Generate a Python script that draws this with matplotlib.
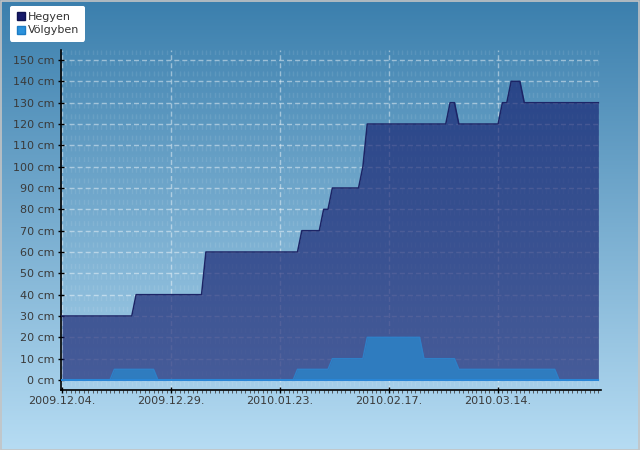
import matplotlib
matplotlib.use("Agg")
import matplotlib.pyplot as plt
import matplotlib.dates as mdates
from matplotlib.lines import Line2D
from matplotlib.patches import Rectangle
import numpy as np
import pandas as pd

# ---- data (breakpoints) ----
hegyen_dates = ["2009-12-04", "2009-12-20", "2009-12-21", "2010-01-05", "2010-01-06",
                "2010-01-27", "2010-01-28", "2010-02-01", "2010-02-02", "2010-02-03",
                "2010-02-04", "2010-02-10", "2010-02-11", "2010-02-12", "2010-03-02",
                "2010-03-03", "2010-03-04", "2010-03-05", "2010-03-14", "2010-03-15",
                "2010-03-16", "2010-03-17", "2010-03-19", "2010-03-20", "2010-04-06"]
hegyen_values = [30, 30, 40, 40, 60,
                 60, 70, 70, 80, 80,
                 90, 90, 100, 120, 120,
                 130, 130, 120, 120, 130,
                 130, 140, 140, 130, 130]

volgyben_dates = ["2009-12-04", "2009-12-15", "2009-12-16", "2009-12-25", "2009-12-26",
                  "2010-01-26", "2010-01-27", "2010-02-03", "2010-02-04", "2010-02-11",
                  "2010-02-12", "2010-02-24", "2010-02-25", "2010-03-04", "2010-03-05",
                  "2010-03-27", "2010-03-28", "2010-04-06"]
volgyben_values = [0, 0, 5, 5, 0,
                   0, 5, 5, 10, 10,
                   20, 20, 10, 10, 5,
                   5, 0, 0]

series_names = ["Hegyen", "Völgyben"]
tick_dates = ["2009-12-04", "2009-12-29", "2010-01-23", "2010-02-17", "2010-03-14"]
y_ticks = list(range(0, 151, 10))

plt.rcParams["lines.scale_dashes"] = False
plt.rcParams["font.family"] = ["DejaVu Sans"]

W, H = 640, 450
fig = plt.figure(figsize=(W / 100, H / 100), dpi=100)

# background gradient
bg = fig.add_axes([0, 0, 1, 1], zorder=-10)
top = np.array([59, 127, 173]) / 255
bot = np.array([182, 220, 243]) / 255
t = np.linspace(0, 1, 256)[:, None]
grad = (top[None, :] * (1 - t) + bot[None, :] * t)[:, None, :]
bg.imshow(grad, aspect="auto", extent=[0, 1, 0, 1])
bg.set_xlim(0, 1); bg.set_ylim(0, 1)
bg.axis("off")
bg.add_patch(Rectangle((0.0008, 0.001), 0.998, 0.997, transform=bg.transAxes,
                       fill=False, edgecolor="#c4c4c4", lw=1.2))

ax = fig.add_axes([61 / W, 1 - 390 / H, (601 - 61) / W, (390 - 50) / H])
ax.set_facecolor("none")

hd = mdates.date2num(pd.to_datetime(hegyen_dates))
vd = mdates.date2num(pd.to_datetime(volgyben_dates))
start = mdates.date2num(pd.Timestamp(tick_dates[0]))

ax.fill_between(hd, 0, hegyen_values, color=(20 / 255, 30 / 255, 110 / 255), alpha=0.65,
                lw=0, zorder=2)
ax.plot(hd, hegyen_values, color="#1c2466", lw=1.1, zorder=3)
ax.fill_between(vd, 0, volgyben_values, color="#2f7cbf", lw=0, zorder=4)
ax.plot(vd, volgyben_values, color="#2e80c8", lw=1.0, zorder=4)
ax.plot([vd[0], vd[-1]], [0, 0], color="#2a86d6", lw=1.5, zorder=5)

ax.set_xlim(start - 0.23, start + 123.6)
ax.set_ylim(-4.7, 154.7)

# ticks
ax.set_xticks(mdates.date2num(pd.to_datetime(tick_dates)))
ax.xaxis.set_major_formatter(mdates.DateFormatter("%Y.%m.%d."))
ax.xaxis.set_minor_locator(mdates.DayLocator())
ax.set_yticks(y_ticks)
ax.set_yticklabels([f"{v} cm" for v in y_ticks])
ax.tick_params(axis="both", which="major", direction="inout", length=5, width=1,
               color="black", labelsize=8, labelcolor="#3a3a3a", pad=2)
ax.tick_params(axis="x", which="minor", direction="out", length=2.5, width=0.6,
               color="#444444")
ax.tick_params(axis="y", which="minor", left=False)

for s in ["top", "right"]:
    ax.spines[s].set_visible(False)
for s in ["left", "bottom"]:
    ax.spines[s].set_color("black")
    ax.spines[s].set_linewidth(1.2)

# grid
ax.grid(True, which="major", axis="both", color="white", alpha=0.45, lw=1,
        linestyle=(0, (3.6, 2.2)), zorder=1)
ax.grid(True, which="minor", axis="x", color="white", alpha=0.09, lw=1,
        linestyle=(4.9, (3.6, 4.1)), zorder=1)
ax.set_axisbelow(True)

# legend
handles = [Line2D([], [], marker="s", linestyle="none", markersize=5.5,
                  markerfacecolor="#161a6a", markeredgecolor="#0e1250"),
           Line2D([], [], marker="s", linestyle="none", markersize=5.5,
                  markerfacecolor="#2b92dc", markeredgecolor="#1d7cc4")]
leg = fig.legend(handles, series_names, loc="upper left",
                 bbox_to_anchor=(10 / W, 1 - 6 / H), frameon=True, fancybox=True,
                 facecolor="white", edgecolor="white", framealpha=1,
                 fontsize=8, labelcolor="#333333", handletextpad=0.15,
                 handlelength=0.9, borderpad=0.55, labelspacing=0.3,
                 borderaxespad=0)
leg.get_frame().set_linewidth(0)

fig.savefig("out.png", dpi=100)
